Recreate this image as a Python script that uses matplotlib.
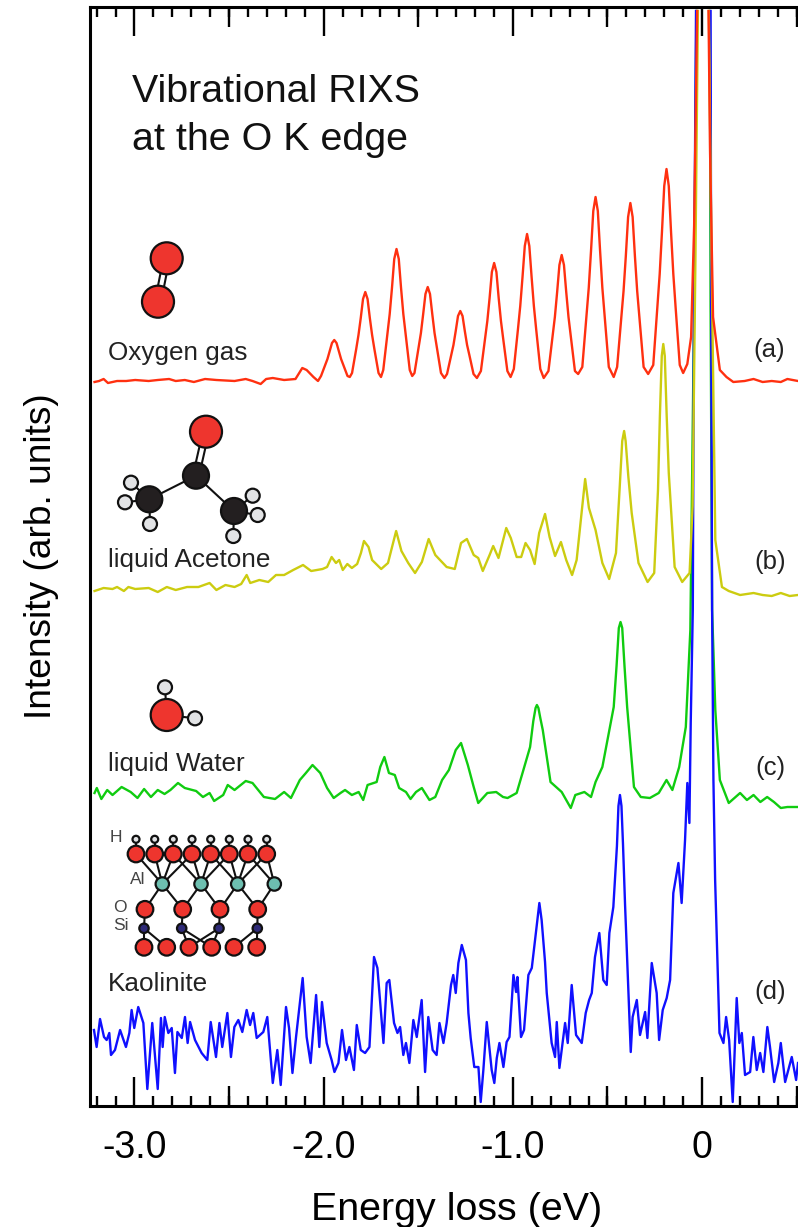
"""Vibrational RIXS at the O K edge: four stacked spectra with molecule sketches."""

import numpy as np
import matplotlib.pyplot as plt
from matplotlib.patches import Circle

plt.rcParams["font.family"] = ["Liberation Sans", "DejaVu Sans"]

nan = np.nan

# oxygen gas (a)
oxygen_e = [-3.211, -3.187, -3.163, -3.140, -3.092, -3.044, -2.996, -2.925, -2.877, -2.817, -2.782, -2.734,
            -2.686, -2.627, -2.567, -2.471, -2.412, -2.376, -2.333, -2.304, -2.269, -2.209, -2.149, -2.113, -2.090,
            -2.054, -2.030, -2.014, -1.992, -1.980, -1.968, -1.956, -1.944, -1.932, -1.920, -1.908, -1.896, -1.874,
            -1.862, -1.850, -1.828, -1.816, -1.804, -1.792, -1.780, -1.768, -1.756, -1.744, -1.732, -1.710,
            -1.697, -1.685, -1.663, -1.651, -1.639, -1.627, -1.615, -1.603, -1.591, -1.579, -1.567, -1.545,
            -1.532, -1.520, -1.498, -1.486, -1.474, -1.462, -1.450, -1.438, -1.426, -1.414, -1.402, -1.380,
            -1.362, -1.348, -1.326, -1.314, -1.302, -1.290, -1.278, -1.266, -1.254, -1.242, -1.230, -1.208,
            -1.190, -1.169, -1.147, -1.135, -1.123, -1.111, -1.099, -1.087, -1.075, -1.063, -1.051, -1.029,
            -1.012, -0.995, -0.973, -0.961, -0.949, -0.937, -0.925, -0.913, -0.901, -0.889, -0.877, -0.855,
            -0.837, -0.812, -0.790, -0.778, -0.766, -0.754, -0.742, -0.730, -0.718, -0.706, -0.694, -0.672,
            -0.655, -0.633, -0.611, -0.599, -0.587, -0.575, -0.563, -0.551, -0.539, -0.527, -0.515, -0.493,
            -0.467, -0.449, -0.427, -0.415, -0.403, -0.391, -0.379, -0.367, -0.355, -0.343, -0.331, -0.309,
            -0.285, -0.258, -0.236, -0.224, -0.212, -0.200, -0.188, -0.176, -0.164, -0.152, -0.140, -0.118,
            -0.100, -0.078, -0.058, -0.042, -0.026, nan, 0.034, 0.042, 0.058, 0.094, 0.129, 0.165,
            0.225, 0.272, 0.320, 0.368, 0.416, 0.451, 0.507]
oxygen_i = [724, 725, 727, 723, 725, 725, 726, 725, 726, 727, 725, 726,
            724, 727, 726, 725, 727, 725, 722, 727, 728, 726, 727, 738, 736,
            729, 725, 730, 741, 747, 755, 763, 766, 763, 755, 747, 741, 730,
            729, 733, 757, 771, 788, 807, 814, 807, 788, 771, 757, 733,
            729, 736, 772, 792, 818, 847, 857, 847, 818, 792, 772, 736,
            730, 733, 759, 773, 792, 812, 819, 812, 792, 773, 759, 733,
            728, 732, 751, 761, 775, 790, 795, 790, 775, 761, 751, 732,
            728, 735, 767, 785, 808, 834, 843, 834, 808, 785, 767, 735,
            729, 737, 777, 800, 829, 860, 872, 860, 829, 800, 777, 737,
            728, 735, 770, 789, 814, 841, 851, 841, 814, 789, 770, 735,
            732, 739, 790, 818, 855, 895, 909, 895, 855, 818, 790, 739,
            729, 739, 788, 815, 850, 889, 903, 889, 850, 815, 788, 739,
            732, 741, 799, 832, 874, 920, 937, 920, 874, 832, 799, 741,
            733, 742, 769, 880, 1095, nan, 1095, 956, 789, 736, 729, 724,
            725, 727, 724, 725, 724, 727, 725]

# liquid acetone (b)
acetone_e = [-3.211, -3.163, -3.116, -3.092, -3.056, -3.032, -2.996, -2.925, -2.877, -2.829, -2.782, -2.722,
             -2.662, -2.603, -2.567, -2.519, -2.471, -2.436, -2.407, -2.388, -2.340, -2.293, -2.252, -2.209, -2.161,
             -2.109, -2.066, -2.006, -1.982, -1.958, -1.935, -1.918, -1.899, -1.875, -1.851, -1.823, -1.803, -1.787,
             -1.763, -1.744, -1.696, -1.660, -1.617, -1.589, -1.553, -1.517, -1.481, -1.445, -1.410, -1.350, -1.307,
             -1.274, -1.243, -1.207, -1.183, -1.159, -1.123, -1.104, -1.076, -1.035, -1.011, -0.980, -0.956, -0.933,
             -0.909, -0.885, -0.861, -0.830, -0.806, -0.777, -0.746, -0.718, -0.687, -0.663, -0.618, -0.598, -0.563,
             -0.527, -0.491, -0.455, -0.435, -0.422, -0.412, -0.404, -0.390, -0.372, -0.336, -0.288, -0.253, -0.233,
             -0.223, -0.213, -0.205, -0.197, -0.187, -0.176, -0.145, -0.105,
             -0.066, -0.050, -0.035, -0.022, nan, 0.036, 0.050, 0.070, 0.105, 0.141, 0.201, 0.272, 0.320, 0.368,
             0.416, 0.463, 0.507]
acetone_i = [515, 518, 517, 519, 515, 519, 517, 518, 514, 519, 516, 519,
             519, 523, 516, 521, 519, 522, 531, 523, 526, 524, 531, 531, 536,
             541, 535, 537, 539, 549, 543, 546, 536, 542, 538, 542, 553, 565,
             559, 546, 537, 543, 575, 555, 543, 533, 544, 567, 551, 539, 537,
             563, 567, 551, 548, 535, 551, 560, 548, 578, 568, 549, 549, 563,
             556, 542, 573, 592, 569, 550, 564, 546, 531, 546, 627, 598, 576,
             543, 527, 553, 620, 665, 675, 665, 630, 593, 543, 524, 533, 616,
             690, 750, 762, 750, 690, 633, 539, 524,
             533, 600, 850, 1095, nan, 1095, 850, 566, 519, 515, 511, 513, 511, 510,
             513, 510, 511]

# liquid water (c)
water_e = [-3.211, -3.199, -3.175, -3.144, -3.116, -3.068, -3.020, -2.984, -2.949, -2.913, -2.877, -2.841,
           -2.810, -2.770, -2.734, -2.674, -2.638, -2.603, -2.579, -2.531, -2.507, -2.471, -2.412, -2.376, -2.316,
           -2.257, -2.209, -2.173, -2.126, -2.094, -2.059, -2.018, -1.982, -1.947, -1.911, -1.887, -1.851, -1.815,
           -1.791, -1.768, -1.720, -1.701, -1.679, -1.655, -1.624, -1.601, -1.565, -1.541, -1.512, -1.481, -1.441,
           -1.410, -1.374, -1.338, -1.302, -1.274, -1.238, -1.207, -1.183, -1.135, -1.088, -1.052, -1.028, -0.980,
           -0.949, -0.909, -0.892, -0.880, -0.873, -0.865, -0.855, -0.842, -0.801, -0.742, -0.694, -0.670, -0.622,
           -0.587, -0.563, -0.527, -0.467, -0.452, -0.440, -0.431, -0.422, -0.410, -0.396, -0.360, -0.324, -0.276,
           -0.229, -0.188, -0.157, -0.121, -0.086, -0.062, -0.042, -0.030,
           nan, 0.041, 0.045, 0.053, 0.070, 0.094, 0.141, 0.201, 0.237, 0.272, 0.308, 0.344, 0.380, 0.416, 0.451, 0.507]
water_i = [313, 318, 307, 316, 311, 319, 314, 308, 317, 309, 316, 312,
           316, 323, 318, 315, 309, 313, 305, 311, 321, 316, 325, 323, 309,
           307, 314, 308, 326, 333, 341, 333, 318, 308, 313, 316, 311, 314,
           306, 321, 324, 339, 349, 333, 331, 318, 314, 307, 314, 318, 306,
           309, 326, 336, 356, 363, 341, 319, 303, 313, 314, 309, 308, 313,
           333, 359, 385, 398, 401, 398, 388, 376, 324, 314, 298, 311, 314,
           309, 324, 339, 399, 440, 478, 484, 478, 440, 399, 319, 309, 308,
           313, 326, 316, 339, 379, 476, 800, 1095,
           nan, 1095, 800, 496, 396, 326, 303, 313, 306, 311, 304, 309, 304, 298, 299, 299]

# kaolinite (d)
kaolinite_e = [-3.214, -3.200, -3.182, -3.161, -3.147, -3.133, -3.124, -3.103, -3.076, -3.045, -3.027, -3.015,
               -3.001, -2.980, -2.953, -2.932, -2.906, -2.877, -2.860, -2.851, -2.840, -2.821, -2.803, -2.786, -2.773,
               -2.750, -2.733, -2.719, -2.706, -2.680, -2.645, -2.615, -2.597, -2.569, -2.551, -2.536, -2.509, -2.490,
               -2.472, -2.451, -2.430, -2.407, -2.389, -2.372, -2.354, -2.319, -2.298, -2.269, -2.245, -2.227, -2.199,
               -2.183, -2.165, -2.146, -2.128, -2.111, -2.090, -2.069, -2.040, -2.023, -2.009, -1.984, -1.958, -1.943,
               -1.922, -1.903, -1.882, -1.864, -1.840, -1.825, -1.804, -1.781, -1.758, -1.734, -1.716, -1.684, -1.667,
               -1.653, -1.628, -1.610, -1.596, -1.579, -1.565, -1.547, -1.526, -1.508, -1.482, -1.464, -1.447, -1.424,
               -1.403, -1.388, -1.367, -1.350, -1.327, -1.315, -1.302, -1.288, -1.270, -1.248, -1.235, -1.223, -1.204,
               -1.182, -1.170, -1.156, -1.138, -1.112, -1.098, -1.085, -1.071, -1.050, -1.033, -1.018, -0.997, -0.983,
               -0.976, -0.957, -0.941, -0.918, -0.900, -0.883, -0.860, -0.848, -0.830, -0.821, -0.795, -0.777, -0.768,
               -0.754, -0.724, -0.710, -0.689, -0.666, -0.636, -0.615, -0.597, -0.583, -0.566, -0.543, -0.522, -0.504,
               -0.490, -0.469, -0.450, -0.442, -0.434, -0.426, -0.418, -0.407, -0.377, -0.367, -0.345, -0.328, -0.301,
               -0.289, -0.266, -0.240, -0.227,
               -0.208, -0.187, -0.169, -0.152, -0.125, -0.108, -0.090, -0.078, -0.067, -0.060, -0.049, -0.043, -0.032,
               nan, 0.045, 0.048, 0.053, 0.060, 0.069, 0.092, 0.113, 0.127, 0.143, 0.162, 0.183, 0.197, 0.210, 0.227,
               0.254, 0.271, 0.289, 0.307, 0.324, 0.345, 0.359, 0.381, 0.403, 0.416, 0.439, 0.456, 0.474, 0.497, 0.507]
kaolinite_i = [76, 59, 87, 69, 66, 73, 51, 56, 76, 59, 73, 96,
               78, 99, 83, 17, 83, 17, 88, 59, 89, 73, 78, 33, 74,
               68, 89, 63, 84, 66, 53, 46, 84, 49, 83, 59, 93, 49,
               79, 86, 74, 96, 81, 93, 68, 74, 89, 23, 56, 21, 99,
               78, 33, 69, 99, 128, 69, 43, 111, 59, 104, 63, 46, 34,
               43, 76, 46, 59, 36, 81, 56, 53, 59, 149, 138, 63, 123,
               126, 83, 73, 79, 51, 63, 43, 86, 69, 106, 34, 89, 56,
               51, 83, 63, 83, 121, 131, 113, 143, 161, 146, 93, 68, 39,
               39, 4, 36, 84, 36, 23, 48, 63, 39, 64, 69, 131, 114,
               129, 69, 76, 131, 138, 166, 203, 186, 144, 113, 63, 49, 84,
               38, 83, 63, 121, 71, 63, 93, 106, 113, 149, 173, 126, 121,
               173, 199, 260, 300, 311, 300, 262, 201, 54, 89, 106, 71, 94,
               68, 143, 113, 66,
               96, 108, 126, 213, 243, 203, 266, 323, 283, 383, 496, 800, 1095,
               nan, 1095, 800, 496, 326, 226, 73, 63, 89, 66, 4, 108, 63, 73, 31,
               34, 69, 36, 53, 34, 79, 59, 24, 43, 63, 24, 36, 49, 26, 43]

tick_values = [-3, -2, -1, 0]
tick_labels = ["-3.0", "-2.0", "-1.0", "0"]
half_ticks = [-2.5, -1.5, -0.5, 0.5]

# 798x1227 pixels
fig = plt.figure(figsize=(7.98, 12.27), dpi=100)
ax = fig.add_axes([90 / 798, 121 / 1227, 708 / 798, 1099 / 1227])

# blue goes over green, red ends up on top around the elastic line
ax.plot(water_e, water_i, color="#10cc10", lw=1.7)
ax.plot(kaolinite_e, kaolinite_i, color="#1010ff", lw=1.7)
ax.plot(acetone_e, acetone_i, color="#cccc10", lw=1.7)
ax.plot(oxygen_e, oxygen_i, color="#ff3010", lw=1.7)

ax.set_xlim(-3.235, 0.507)
ax.set_ylim(0, 1099)
ax.set_yticks([])
ax.set_xticks(tick_values, tick_labels)
ax.set_xticks(np.arange(-32, 6) / 10, minor=True)
ax.tick_params(axis="x", which="major", direction="in", top=True, length=21, width=1.7,
               labelsize=27, pad=17)
ax.tick_params(axis="x", which="minor", direction="in", top=True, length=7.5, width=1.7)
for side in ["top", "left", "bottom"]:
    ax.spines[side].set_linewidth(2.2)
ax.spines["right"].set_visible(False)

# medium ticks at the half eV
for where in ["bottom", "top"]:
    sec = ax.secondary_xaxis(where)
    sec.set_xticks(half_ticks, [])
    sec.tick_params(direction="in", length=14.5, width=1.7)
    sec.spines[where].set_visible(False)

ax.set_xlabel("Energy loss (eV)", fontsize=28.4, va="center")
ax.xaxis.set_label_coords(0.518, -0.0946)
ax.set_ylabel("Intensity (arb. units)", fontsize=26.7, va="center")
ax.yaxis.set_label_coords(-0.069, 0.5)

# overlay in pixel coordinates for the sketches and labels
ov = fig.add_axes([0, 0, 1, 1])
ov.set_xlim(0, 798)
ov.set_ylim(1227, 0)
ov.axis("off")


def atom(x, y, r, color):
    ov.add_patch(Circle((x, y), r, facecolor=color, edgecolor="#111111", lw=1.6, zorder=3))


def bond(x0, y0, x1, y1):
    ov.plot([x0, x1], [y0, y1], color="#111111", lw=1.5, zorder=2)


RED = "#ee352e"
DARK = "#231f20"
GREY = "#e2e3e5"
TEAL = "#6dbfb0"
NAVY = "#2e2a78"

# O2
bond(163.5, 258, 155, 301)
bond(169.5, 259, 161, 302)
atom(166.7, 258.3, 16, RED)
atom(158, 301.7, 16, RED)

# acetone
bond(203, 431, 193, 475)
bond(209, 432, 199, 476)
bond(196, 475.7, 149.3, 499.3)
bond(196, 475.7, 234, 511)
for hx, hy in [(131, 482.7), (125, 502.3), (150, 524)]:
    bond(149.3, 499.3, hx, hy)
    atom(hx, hy, 7, GREY)
for hx, hy in [(252.7, 495.7), (257.7, 515), (233.3, 536)]:
    bond(234, 511, hx, hy)
    atom(hx, hy, 7, GREY)
atom(206, 431.7, 16, RED)
atom(196, 475.7, 13, DARK)
atom(149.3, 499.3, 13, DARK)
atom(234, 511, 13, DARK)

# water
bond(166.7, 715, 165, 687.3)
bond(166.7, 715, 195, 718.3)
atom(165, 687.3, 7, GREY)
atom(195, 718.3, 7, GREY)
atom(166.7, 715, 16, RED)

# kaolinite
top_x = [136, 154.7, 173.3, 192, 210.7, 229.3, 248, 266.7]
al_x = [162.3, 201, 237.7, 274.3]
mid_x = [145, 182.7, 220, 257.7]
si_x = [144, 181.7, 219, 257.3]
low_x = [144, 166.7, 189, 211.7, 234, 256.7]
for i, links in enumerate([[0, 1, 2, 3], [2, 3, 4, 5], [4, 5, 6, 7], [6, 7]]):
    for k in links:
        bond(al_x[i], 884, top_x[k], 854)
for i, links in enumerate([[0, 1], [1, 2], [2, 3], [3]]):
    for k in links:
        bond(al_x[i], 884, mid_x[k], 909.3)
for i, links in enumerate([[0, 1], [2, 3], [2, 3], [4, 5]]):
    bond(mid_x[i], 909.3, si_x[i], 928.3)
    for k in links:
        bond(si_x[i], 928.3, low_x[k], 947.3)
for x in top_x:
    bond(x, 839.3, x, 854)
    atom(x, 839.3, 3.5, GREY)
    atom(x, 854, 8.3, RED)
for x in al_x:
    atom(x, 884, 6.7, TEAL)
for x in mid_x:
    atom(x, 909.3, 8.3, RED)
for x in si_x:
    atom(x, 928.3, 4.7, NAVY)
for x in low_x:
    atom(x, 947.3, 8.3, RED)

# texts
ov.text(132, 92, "Vibrational RIXS", fontsize=28.4, va="center", color="#111111")
ov.text(132, 140, "at the O K edge", fontsize=28.4, va="center", color="#111111")
for label, ty in [("Oxygen gas", 353), ("liquid Acetone", 560), ("liquid Water", 764), ("Kaolinite", 984)]:
    ov.text(108, ty, label, fontsize=18.8, va="center", color="#222222")
for label, tx, ty in [("(a)", 753, 350), ("(b)", 754, 562), ("(c)", 755, 768), ("(d)", 754, 992)]:
    ov.text(tx, ty, label, fontsize=18.5, va="center", color="#222222")
for label, tx, ty in [("H", 110, 837), ("Al", 130, 879), ("O", 113, 907), ("Si", 113, 926)]:
    ov.text(tx, ty, label, fontsize=12.5, va="center", color="#444444")

plt.savefig("out.png", dpi=100)
